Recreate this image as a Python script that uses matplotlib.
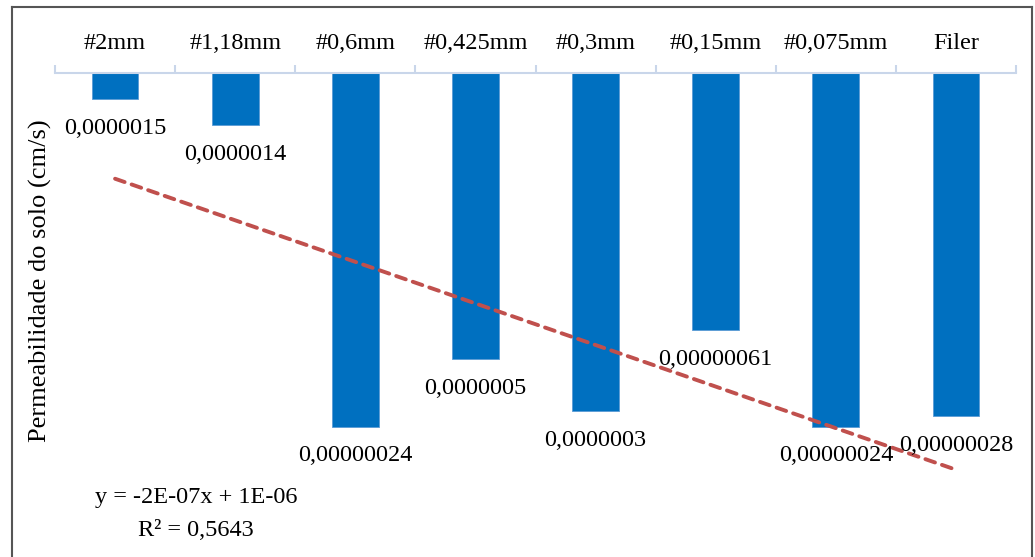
import numpy as np
import matplotlib
matplotlib.use("Agg")
from matplotlib import pyplot as plt
from matplotlib.lines import Line2D

plt.rcParams["font.family"] = ["Liberation Serif", "DejaVu Serif"]

categories = ["#2mm", "#1,18mm", "#0,6mm", "#0,425mm", "#0,3mm", "#0,15mm", "#0,075mm", "Filer"]
permeability = [0.0000015, 0.0000014, 0.00000024, 0.0000005, 0.0000003, 0.00000061, 0.00000024, 0.00000028]
axis_cross = 0.0000016

W, H = 1035, 557
fig = plt.figure(figsize=(W / 100, H / 100), dpi=100)
ax = fig.add_axes([55 / W, 1 - 489 / H, (1016 - 55) / W, (489 - 73) / H])

x = np.arange(1, len(categories) + 1)
vals = np.array(permeability)

ax.bar(x, vals - axis_cross, bottom=axis_cross, width=0.39, color="#0070C0",
       edgecolor="#5B9BD5", linewidth=0.6, zorder=2)

for xi, v in zip(x, vals):
    txt = f"{v:.10f}".rstrip("0").replace(".", ",")
    ax.annotate(txt, (xi, v), xytext=(0, -21), textcoords="offset points",
                ha="center", va="center", fontsize=17.5, color="black", zorder=4)

# linear trendline
slope, intercept = np.polyfit(x, vals, 1)
fit = slope * x + intercept
r2 = 1 - np.sum((vals - fit) ** 2) / np.sum((vals - vals.mean()) ** 2)
ax.plot([x[0], x[-1]], [slope * x[0] + intercept, slope * x[-1] + intercept],
        color="#C0504D", linewidth=2.8, dashes=(2.6, 1.9), dash_capstyle="round", zorder=3)

ax.set_xlim(0.5, len(categories) + 0.5)
ax.set_ylim(0, axis_cross)

for s in ["left", "right", "bottom"]:
    ax.spines[s].set_visible(False)
ax.spines["top"].set_color("#C9D6EA")
ax.spines["top"].set_linewidth(1.5)

ax.xaxis.set_ticks_position("top")
ax.set_xticks(np.arange(0.5, len(categories) + 1, 1.0))
ax.set_xticklabels([])
ax.set_xticks(x, minor=True)
ax.set_xticklabels(categories, minor=True, fontsize=17.5)
ax.tick_params(axis="x", which="major", length=6, width=1.5, color="#C9D6EA", direction="out")
ax.tick_params(axis="x", which="minor", length=0, pad=14)
ax.set_yticks([])
ax.set_ylabel("Permeabilidade do solo (cm/s)", fontsize=19, labelpad=2)

eq = "y = -2E-07x + 1E-06"
fig.text(196 / W, 1 - 497 / H, eq, ha="center", va="center", fontsize=17.5)
fig.text(196 / W, 1 - 530 / H, f"R² = {r2:.4f}".replace(".", ","), ha="center", va="center", fontsize=17.5)

# outer frame of the chart
frame = dict(color="#555555", linewidth=1.5, transform=fig.transFigure)
fig.add_artist(Line2D([12 / W, 12 / W], [0, 1 - 7 / H], **frame))
fig.add_artist(Line2D([12 / W, 1032 / W], [1 - 7 / H, 1 - 7 / H], **frame))
fig.add_artist(Line2D([1032 / W, 1032 / W], [0, 1 - 7 / H], **frame))

fig.savefig("out.png", dpi=100)
